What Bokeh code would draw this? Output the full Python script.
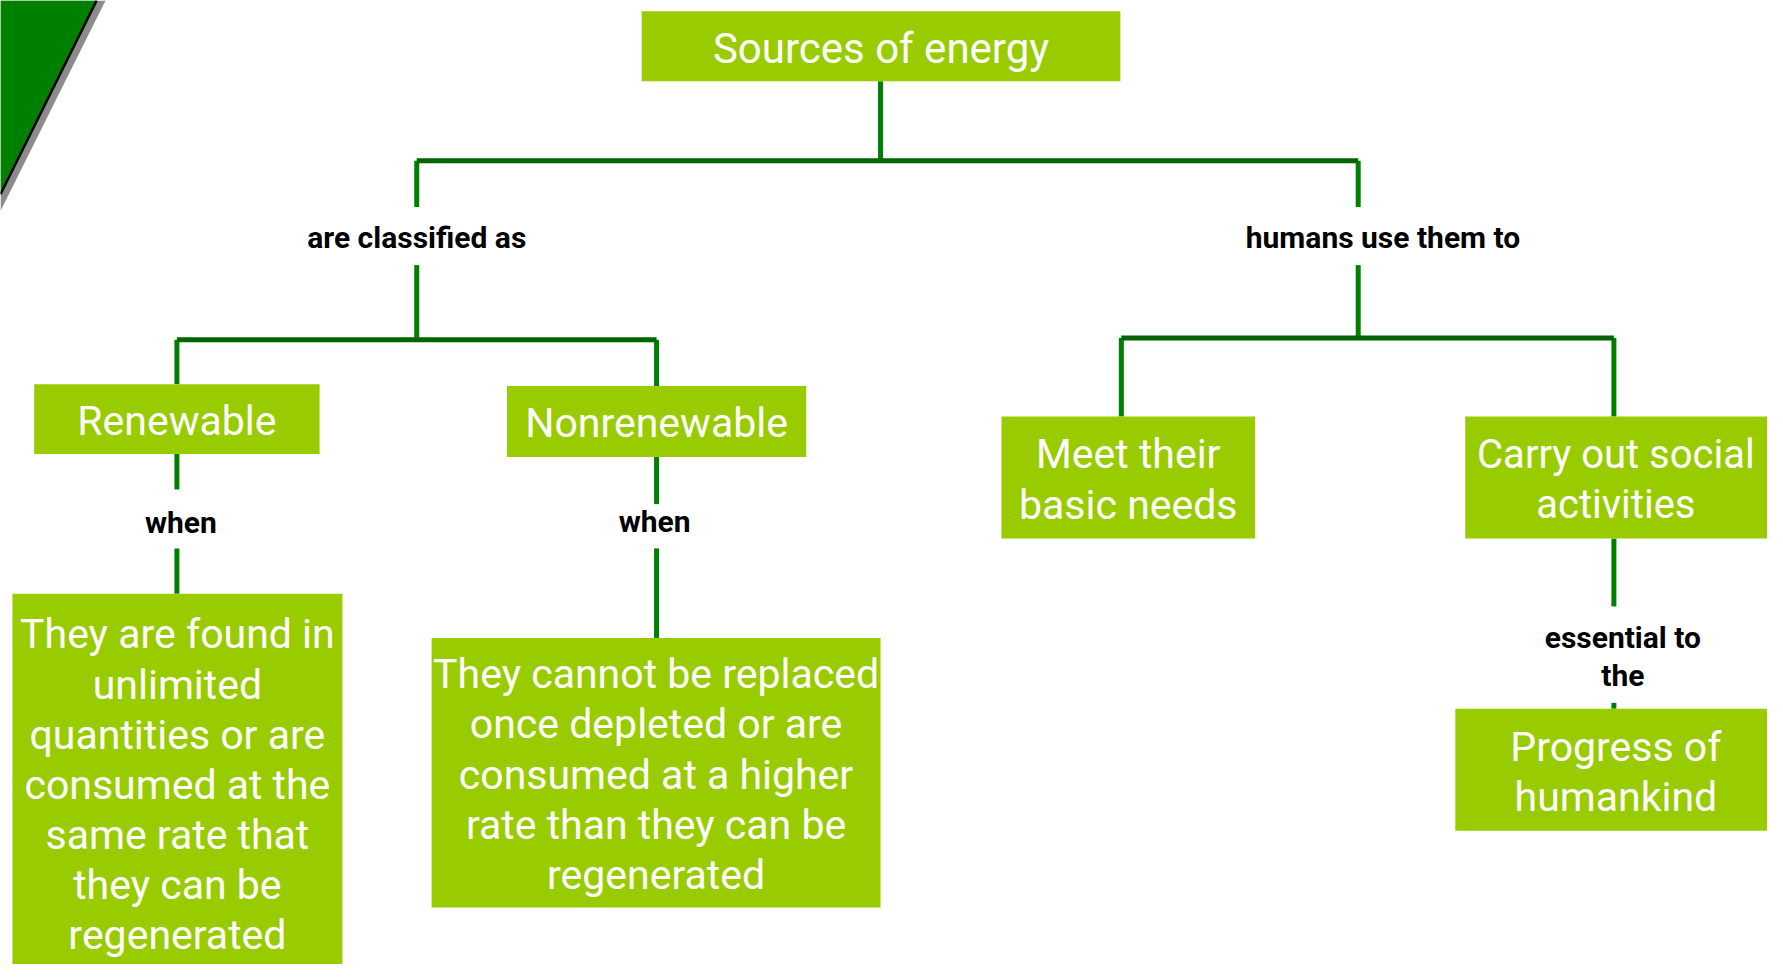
from bokeh.plotting import figure
from bokeh.models import Range1d, ColumnDataSource
from bokeh.core.properties import value
from bokeh.embed import file_html
from bokeh.resources import INLINE

# ---- concept nodes (boxes) ----
node_text = [
    "Sources of energy",
    "Renewable",
    "Nonrenewable",
    "Meet their\nbasic needs",
    "Carry out social\nactivities",
    "They are found in\nunlimited\nquantities or are\nconsumed at the\nsame rate that\nthey can be\nregenerated",
    "They cannot be replaced\nonce depleted or are\nconsumed at a higher\nrate than they can be\nregenerated",
    "Progress of\nhumankind",
]
node_left = [647, 34, 511, 1010, 1478, 12, 435, 1468]
node_right = [1130, 322, 813, 1266, 1783, 345, 888, 1783]
node_top = [11, 390, 392, 423, 423, 603, 648, 720]
node_bottom = [82, 461, 464, 547, 547, 990, 922, 844]
node_port = [888, 178, 662, 1131, 1628, 178, 662, 1628]
node_font = [42, 41, 41, 41, 40, 41, 41, 41]
line_h = 51

# ---- linking phrases ----
link_text = ["are classified as", "humans use them to", "when", "when", "essential to\nthe"]
link_line_x = [420, 1370, 178, 662, 1628]
link_text_x = [420, 1395, 182, 660, 1637]
link_text_y = [241, 241, 531, 530, 667]
link_gap_top = [210, 210, 497, 512, 616]
link_gap_bottom = [269, 269, 557, 557, 714]
link_h = 38

# ---- tree structure ----
bus_top_y = 163
bus_left_y = 345
bus_right_y = 343

BOX_FILL = "#99CC00"
LINE_V = "#008000"
LINE_H = "#006400"
FONT = "Roboto"

p = figure(width=1767, height=964, output_backend="svg", toolbar_location=None,
           x_range=Range1d(0, 1783), y_range=Range1d(980, 0), min_border=0)
p.axis.visible = False
p.grid.visible = False
p.outline_line_color = None
p.background_fill_color = "white"
p.border_fill_color = "white"

# decorative corner triangle
p.patch([0, 106, 0], [0, 0, 214], fill_color="#8c8c8c", line_color=None)
p.patch([0, 97, 0], [0, 0, 197], fill_color="#008000", line_color=None)
p.line([97, 0], [0, 197], line_color="black", line_width=2.5)

# connector segments
vx0, vy0, vx1, vy1 = [], [], [], []
hx0, hy0, hx1, hy1 = [], [], [], []
# title down to top bus
vx0.append(node_port[0]); vy0.append(node_bottom[0]); vx1.append(node_port[0]); vy1.append(bus_top_y)
hx0.append(link_line_x[0]); hy0.append(bus_top_y); hx1.append(link_line_x[1]); hy1.append(bus_top_y)
# link 0 and 1 verticals
for i, bus in [(0, bus_left_y), (1, bus_right_y)]:
    vx0 += [link_line_x[i], link_line_x[i]]
    vy0 += [bus_top_y, link_gap_bottom[i]]
    vx1 += [link_line_x[i], link_line_x[i]]
    vy1 += [link_gap_top[i], bus]
# left bus -> Renewable, Nonrenewable
hx0.append(node_port[1]); hy0.append(bus_left_y); hx1.append(node_port[2]); hy1.append(bus_left_y)
for j in (1, 2):
    vx0.append(node_port[j]); vy0.append(bus_left_y); vx1.append(node_port[j]); vy1.append(node_top[j])
# right bus -> Meet, Carry
hx0.append(node_port[3]); hy0.append(bus_right_y); hx1.append(node_port[4]); hy1.append(bus_right_y)
for j in (3, 4):
    vx0.append(node_port[j]); vy0.append(bus_right_y); vx1.append(node_port[j]); vy1.append(node_top[j])
# parent -> link -> child
for i, par, ch in [(2, 1, 5), (3, 2, 6), (4, 4, 7)]:
    vx0 += [link_line_x[i], link_line_x[i]]
    vy0 += [node_bottom[par], link_gap_bottom[i]]
    vx1 += [link_line_x[i], link_line_x[i]]
    vy1 += [link_gap_top[i], node_top[ch]]

p.segment(vx0, vy0, vx1, vy1, line_color=LINE_V, line_width=5)
p.segment(hx0, hy0, hx1, hy1, line_color=LINE_H, line_width=5)

# boxes
p.quad(left=node_left, right=node_right, top=node_top, bottom=node_bottom,
       fill_color=BOX_FILL, line_color=None)

# box texts
tx, ty, tt, tf = [], [], [], []
for k, t in enumerate(node_text):
    lines = t.split("\n")
    cx = (node_left[k] + node_right[k]) / 2
    if k == 4 or k == 7:
        cx = node_port[k] + 2
    cy = (node_top[k] + node_bottom[k]) / 2 + 2
    if k == 5:
        cy = (node_top[k] + 988) / 2 + 2
    n = len(lines)
    for m, ln in enumerate(lines):
        tx.append(cx)
        ty.append(cy + (m - (n - 1) / 2) * line_h)
        tt.append(ln)
        tf.append(f"{node_font[k]}px")
src = ColumnDataSource(dict(x=tx, y=ty, text=tt, fs=tf))
p.text(x="x", y="y", text="text", source=src, text_font=value(FONT), text_font_size="fs",
       text_color="white", text_align="center", text_baseline="middle")

# link texts
lx, ly, lt = [], [], []
for k, t in enumerate(link_text):
    lines = t.split("\n")
    n = len(lines)
    for m, ln in enumerate(lines):
        lx.append(link_text_x[k])
        ly.append(link_text_y[k] + (m - (n - 1) / 2) * link_h)
        lt.append(ln)
p.text(x=lx, y=ly, text=lt, text_font=value(FONT), text_font_size="30px",
       text_font_style="bold", text_color="black", text_align="center", text_baseline="middle")

open("out.html", "w").write(file_html(p, INLINE))
